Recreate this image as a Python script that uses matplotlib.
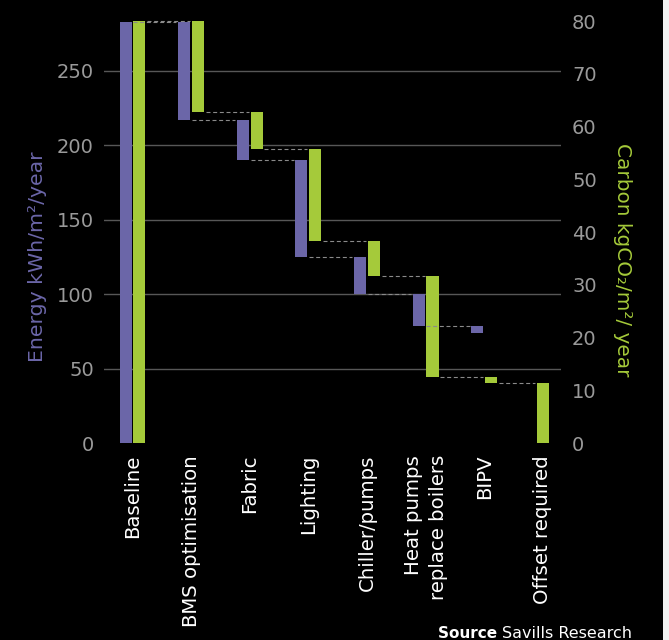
import numpy as np
import matplotlib
matplotlib.use('Agg')
import matplotlib.pyplot as plt
from matplotlib.patches import Rectangle

# categories along the x axis
categories = ['Baseline', 'BMS optimisation', 'Fabric', 'Lighting', 'Chiller/pumps',
              'Heat pumps\nreplace boilers', 'BIPV', 'Offset required']

# energy kWh/m2/year: baseline then saving of each measure (no energy bar for the offset)
energy_baseline = 283
energy_savings = [66, 27, 65, 25, 21, 5]

# carbon kgCO2/m2/year: baseline, saving of each measure, then what is left to offset
carbon_baseline = 80
carbon_savings = [17.2, 7.1, 17.4, 6.6, 19.1, 1.1]
carbon_offset = 11.5

purple = '#6b66a8'
green = '#a5ca3a'
tick_grey = '#9a9a9a'


def waterfall(base, savings, final=None):
    # returns bottoms, heights and the running level after every bar
    bottoms, heights, levels = [0], [base], [base]
    level = base
    for s in savings:
        level -= s
        bottoms.append(level)
        heights.append(s)
        levels.append(level)
    if final is None:
        bottoms.append(np.nan)
        heights.append(np.nan)
        levels.append(np.nan)
    else:
        bottoms.append(0)
        heights.append(final)
        levels.append(0)
    return np.array(bottoms), np.array(heights), np.array(levels)


e_bot, e_h, e_lvl = waterfall(energy_baseline, energy_savings)
c_bot, c_h, c_lvl = waterfall(carbon_baseline, carbon_savings, carbon_offset)

x = np.arange(len(categories))
w = 0.205
off = 0.118
has_e = ~np.isnan(e_h)
x_e = x - off
x_c = np.where(has_e, x + off, x)

fig = plt.figure(figsize=(6.69, 6.4), dpi=100, facecolor='black')
ax = fig.add_axes([104 / 669, 1 - 443.3 / 640, 457 / 669, 423.3 / 640])
ax.set_facecolor('black')
ax2 = ax.twinx()

ax.bar(x_e[has_e], e_h[has_e], bottom=e_bot[has_e], width=w, color=purple, zorder=3)
ax2.bar(x_c, c_h, bottom=c_bot, width=w, color=green, zorder=3)

ax.set_xlim(-0.486, 7.31)
ax.set_ylim(0, 284.1)
ax2.set_ylim(0, 80.2)
ax.set_yticks(np.arange(0, 251, 50))
ax2.set_yticks(np.arange(0, 81, 10))

# grid from the energy axis, no line at zero
ax.grid(axis='y', color='#575757', linewidth=1.0, zorder=0)
ax.set_axisbelow(True)
ax.get_ygridlines()[0].set_visible(False)

# dashed connectors between the steps, drawn on top of the bars
dash = dict(colors='#8a8a8a', linewidth=0.8, linestyles=(0, (3.6, 2.4)), zorder=5)
gap = 0.03
for i in range(len(categories) - 1):
    if has_e[i] and has_e[i + 1]:
        ax2.hlines(e_lvl[i], x_e[i] + w / 2 + gap, x_e[i + 1] - w / 2 - gap,
                   transform=ax.transData, **dash)
    ax2.hlines(c_lvl[i], x_c[i] + w / 2 + gap, x_c[i + 1] - w / 2 - gap, **dash)

for a in (ax, ax2):
    for s in a.spines.values():
        s.set_visible(False)

ax.set_xticks(x)
ax.set_xticklabels(categories, rotation=90, color='white', fontsize=14.2)
for lbl in ax.get_xticklabels():
    if '\n' in lbl.get_text():
        lbl.set_linespacing(1.4)
        lbl.set_multialignment('right')
ax.tick_params(axis='x', length=0, pad=8.4)
ax.tick_params(axis='y', length=0, pad=7.2, labelcolor=tick_grey, labelsize=14)
ax2.tick_params(axis='y', length=0, pad=8, labelcolor=tick_grey, labelsize=14)

ax.set_ylabel('Energy kWh/m²/year', color=purple, fontsize=14.7)
ax.yaxis.set_label_coords(-0.125, 0.44)
ax2.set_ylabel('Carbon kgCO₂/m²/ year', color=green, fontsize=14.4, rotation=270, va='bottom')
ax2.yaxis.set_label_coords(1.114, 0.4345)

# source line
t = fig.text(632 / 669, 1 - 633 / 640, 'Savills Research', ha='right', va='center',
             color='white', fontsize=11.5)
ax.annotate('Source ', xy=(0, 0), xycoords=t, ha='right', va='bottom',
            color='white', fontsize=11, fontweight='bold', annotation_clip=False)

# light strip on the right edge
fig.add_artist(Rectangle((663 / 669, 0), 6 / 669, 1, transform=fig.transFigure,
                         facecolor='#f2f2f2', edgecolor='none'))

fig.savefig('out.png', facecolor='black')
